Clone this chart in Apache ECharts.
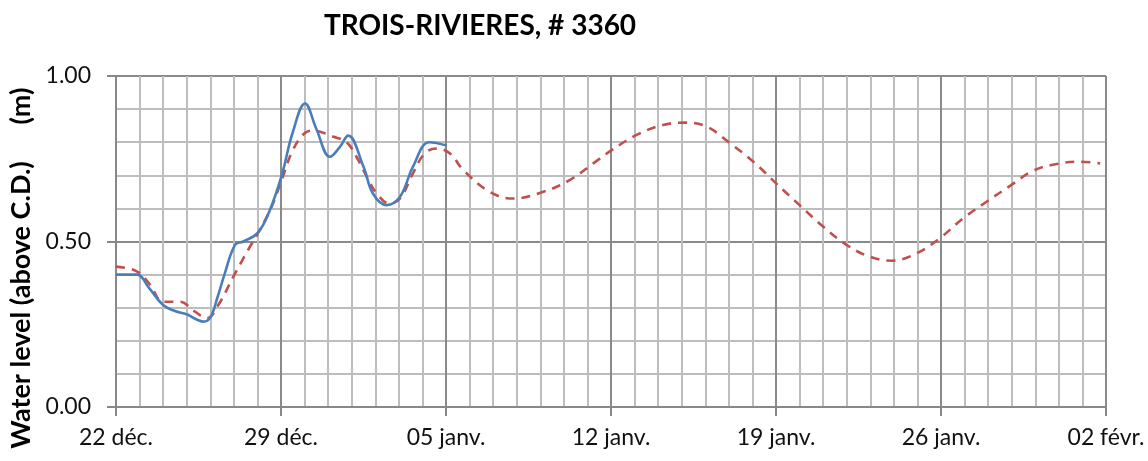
<!DOCTYPE html>
<html>
<head>
<meta charset="utf-8">
<title>TROIS-RIVIERES, # 3360</title>
<script src="https://cdn.jsdelivr.net/npm/echarts@6/dist/echarts.min.js"></script>
<style>
  html, body { margin: 0; padding: 0; background: #fff; }
  #chart { width: 1148px; height: 461px; }
</style>
</head>
<body>
<div id="chart"></div>
<script>
  // x = days since 22 déc.
  const tickLabels = ['22 déc.', '29 déc.', '05 janv.', '12 janv.', '19 janv.', '26 janv.', '02 févr.'];

  const observedDays = [0, 0.5, 0.9, 1.4, 2.0, 2.5, 3.0, 3.4, 3.7, 4.0, 4.3, 4.6, 5.05, 5.4, 6.0, 6.5, 7.03, 7.5, 8.02, 8.5, 9.08, 9.5, 9.85, 10.5, 10.9, 11.48, 12.05, 12.6, 13.3, 14.03];
  const observedLevels = [0.40, 0.40, 0.40, 0.36, 0.308, 0.29, 0.28, 0.265, 0.258, 0.27, 0.33, 0.40, 0.49, 0.50, 0.525, 0.59, 0.70, 0.83, 0.917, 0.84, 0.756, 0.786, 0.82, 0.726, 0.645, 0.61, 0.635, 0.726, 0.80, 0.79];

  const predictedDays = [0, 0.88, 1.44, 2.0, 2.7, 3.35, 3.85, 4.34, 4.98, 5.6, 6.1, 6.6, 7.03, 7.5, 8.0, 8.37, 9.2, 9.78, 10.2, 10.64, 11.06, 11.6, 12.05, 12.6, 13.1, 13.6, 14.17, 14.73, 15.86, 16.85, 18.13, 19.26, 20.25, 21.03, 22.09, 23.2, 24.2, 25.06, 26.05, 27.04, 28.03, 29.0, 30.0, 30.99, 31.98, 32.9, 33.96, 34.95, 35.94, 36.93, 37.93, 38.92, 39.9, 40.89, 41.75];
  const predictedLevels = [0.424, 0.41, 0.37, 0.318, 0.318, 0.288, 0.268, 0.308, 0.394, 0.474, 0.535, 0.605, 0.686, 0.776, 0.827, 0.835, 0.817, 0.80, 0.756, 0.696, 0.645, 0.615, 0.63, 0.706, 0.766, 0.781, 0.766, 0.716, 0.65, 0.63, 0.65, 0.686, 0.736, 0.776, 0.822, 0.852, 0.859, 0.847, 0.797, 0.741, 0.674, 0.61, 0.545, 0.49, 0.454, 0.442, 0.464, 0.51, 0.57, 0.62, 0.668, 0.714, 0.734, 0.741, 0.736];

  const pairs = (xs, ys) => xs.map((x, i) => [x, ys[i]]);

  const chart = echarts.init(document.getElementById('chart'));
  const font = 'Lato, "Open Sans", sans-serif';
  const nameStyle = {
    fontFamily: font, fontSize: 27, fontWeight: 'bold', fill: '#000',
    align: 'center', verticalAlign: 'middle'
  };

  chart.setOption({
    animation: false,
    title: {
      text: 'TROIS-RIVIERES, # 3360',
      left: 475,
      top: 7,
      textAlign: 'center',
      textStyle: { fontFamily: font, fontSize: 28, fontWeight: 'bold', color: '#000' }
    },
    graphic: [
      { type: 'text', x: 21, y: 305, rotation: Math.PI / 2,
        style: Object.assign({ text: 'Water level (above C.D.)' }, nameStyle) },
      { type: 'text', x: 21, y: 106, rotation: Math.PI / 2,
        style: Object.assign({ text: '(m)' }, nameStyle) }
    ],
    grid: { left: 116, right: 42, top: 76, bottom: 54 },
    xAxis: {
      type: 'value',
      min: 0,
      max: 42,
      interval: 7,
      axisLine: { show: true, lineStyle: { color: '#888', width: 2 } },
      axisTick: { show: true, length: 9, lineStyle: { color: '#888', width: 2 } },
      axisLabel: {
        fontFamily: font, fontSize: 23, color: '#111', margin: 19,
        formatter: v => tickLabels[Math.round(v / 7)] || ''
      },
      splitLine: { show: true, lineStyle: { color: '#8a8a8a', width: 2 } },
      minorTick: { show: true, splitNumber: 7, length: 0 },
      minorSplitLine: { show: true, lineStyle: { color: '#bdbdbd', width: 2 } }
    },
    yAxis: {
      type: 'value',
      min: 0,
      max: 1,
      interval: 0.5,
      axisLine: { show: true, lineStyle: { color: '#888', width: 2 } },
      axisTick: { show: true, length: 9, lineStyle: { color: '#888', width: 2 } },
      axisLabel: {
        fontFamily: font, fontSize: 23, color: '#111', margin: 25,
        formatter: v => v.toFixed(2)
      },
      splitLine: { show: true, lineStyle: { color: '#8a8a8a', width: 2 } },
      minorTick: { show: true, splitNumber: 5, length: 0 },
      minorSplitLine: { show: true, lineStyle: { color: '#bdbdbd', width: 2 } }
    },
    series: [
      {
        name: 'Predicted',
        type: 'line',
        data: pairs(predictedDays, predictedLevels),
        smooth: 0.4,
        showSymbol: false,
        lineStyle: { color: '#C0504D', width: 2.6, type: [9, 7] },
        z: 3
      },
      {
        name: 'Observed',
        type: 'line',
        data: pairs(observedDays, observedLevels),
        smooth: 0.4,
        showSymbol: false,
        lineStyle: { color: '#4A7EBB', width: 2.6 },
        z: 4
      }
    ]
  });
</script>
</body>
</html>
